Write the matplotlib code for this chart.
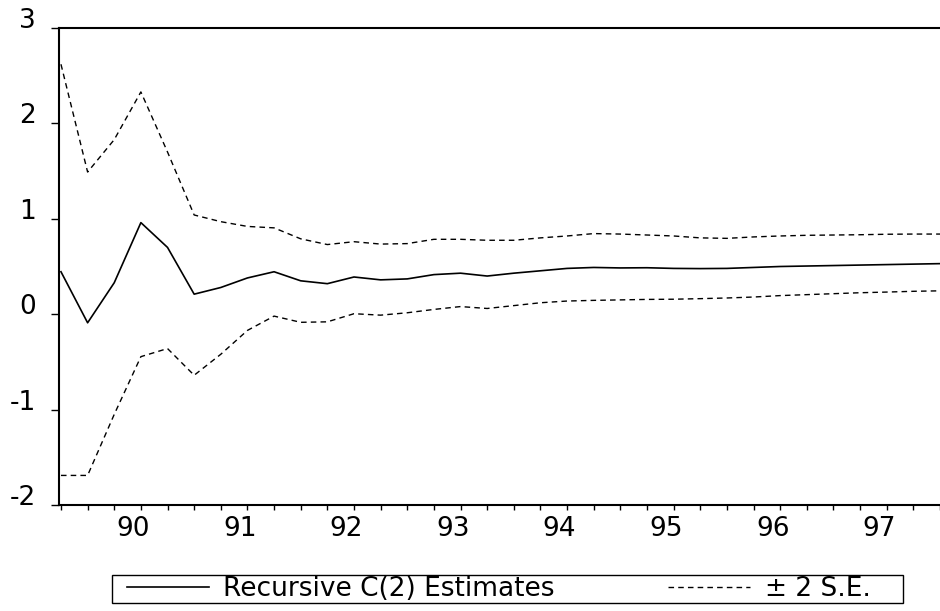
import matplotlib
matplotlib.use("Agg")
import matplotlib.pyplot as plt
from matplotlib.transforms import ScaledTranslation
from matplotlib.patches import Rectangle

# ---------------- data ----------------
quarters = ["1989Q2", "1989Q3", "1989Q4",
            "1990Q1", "1990Q2", "1990Q3", "1990Q4",
            "1991Q1", "1991Q2", "1991Q3", "1991Q4",
            "1992Q1", "1992Q2", "1992Q3", "1992Q4",
            "1993Q1", "1993Q2", "1993Q3", "1993Q4",
            "1994Q1", "1994Q2", "1994Q3", "1994Q4",
            "1995Q1", "1995Q2", "1995Q3", "1995Q4",
            "1996Q1", "1996Q2", "1996Q3", "1996Q4",
            "1997Q1", "1997Q2", "1997Q3"]

estimate = [0.445, -0.09, 0.33, 0.96, 0.70, 0.21, 0.28, 0.38, 0.445, 0.35,
            0.32, 0.39, 0.36, 0.37, 0.415, 0.43, 0.40, 0.43, 0.455, 0.48,
            0.49, 0.485, 0.487, 0.48, 0.478, 0.48, 0.49, 0.50, 0.505, 0.51,
            0.515, 0.52, 0.525, 0.53]

upper = [2.62, 1.49, 1.83, 2.33, 1.70, 1.04, 0.97, 0.92, 0.905, 0.79,
         0.73, 0.76, 0.735, 0.74, 0.785, 0.785, 0.775, 0.775, 0.80, 0.82,
         0.845, 0.84, 0.83, 0.82, 0.80, 0.795, 0.81, 0.82, 0.827, 0.83,
         0.833, 0.838, 0.84, 0.84]

lower = [-1.69, -1.69, -1.05, -0.445, -0.36, -0.64, -0.42, -0.17, -0.02, -0.085,
         -0.08, 0.005, -0.01, 0.015, 0.05, 0.08, 0.06, 0.09, 0.12, 0.138,
         0.145, 0.15, 0.155, 0.157, 0.163, 0.17, 0.18, 0.195, 0.205, 0.215,
         0.225, 0.232, 0.24, 0.245]

year_ticks = [90, 91, 92, 93, 94, 95, 96, 97]
year_labels = ["90", "91", "92", "93", "94", "95", "96", "97"]
y_ticks = [-2, -1, 0, 1, 2, 3]
y_labels = ["-2", "-1", "0", "1", "2", "3"]

series_labels = ["Recursive C(2) Estimates", "\u00b1 2 S.E."]

# ---------------- figure ----------------
x = [int(q[2:4]) + (int(q[5]) - 1) / 4.0 for q in quarters]

W, H = 940, 611
fig = plt.figure(figsize=(W / 100, H / 100), dpi=100)
fig.patch.set_facecolor("white")
ax = fig.add_axes([59 / W, 106 / H, 881 / W, 477 / H])

l_est, = ax.plot(x, estimate, color="black", lw=1.2, label=series_labels[0])
l_up, = ax.plot(x, upper, color="black", lw=1.0, ls=(0, (4, 3)), label=series_labels[1])
ax.plot(x, lower, color="black", lw=1.0, ls=(0, (4, 3)))

ax.set_xlim(x[0] - 0.0185, x[0] + 32.62 * 0.25)
ax.set_ylim(-2, 3)

ax.set_yticks(y_ticks, y_labels)
ax.set_xticks(year_ticks, year_labels)
ax.set_xticks(x, minor=True)

ax.tick_params(axis="y", which="major", direction="out", length=5.8, width=1.0,
               pad=10.8, labelsize=19, colors="black")
ax.tick_params(axis="x", which="both", direction="out", length=3.6, width=1.0)
ax.tick_params(axis="x", which="major", pad=4.0, labelsize=19)

for lbl in ax.get_yticklabels():
    lbl.set_verticalalignment("baseline")
offset = ScaledTranslation(-7.5 / 100, 0, fig.dpi_scale_trans)
for lbl in ax.get_xticklabels():
    lbl.set_transform(lbl.get_transform() + offset)

for side in ["left", "bottom", "top"]:
    ax.spines[side].set_linewidth(1.5)
    ax.spines[side].set_color("black")
ax.spines["right"].set_visible(False)

# legend
fig.legend([l_est, l_up], series_labels, loc="center left",
           bbox_to_anchor=(127 / W, 1 - 589 / H), frameon=False, ncol=2,
           handlelength=3.1, handletextpad=0.55, columnspacing=4.3,
           borderpad=0, borderaxespad=0, fontsize=19)
fig.patches.append(Rectangle((112 / W, (H - 603) / H), (903 - 112) / W, 28 / H,
                             transform=fig.transFigure, fill=False,
                             edgecolor="black", lw=1.0))

fig.savefig("out.png", dpi=100, facecolor="white")
